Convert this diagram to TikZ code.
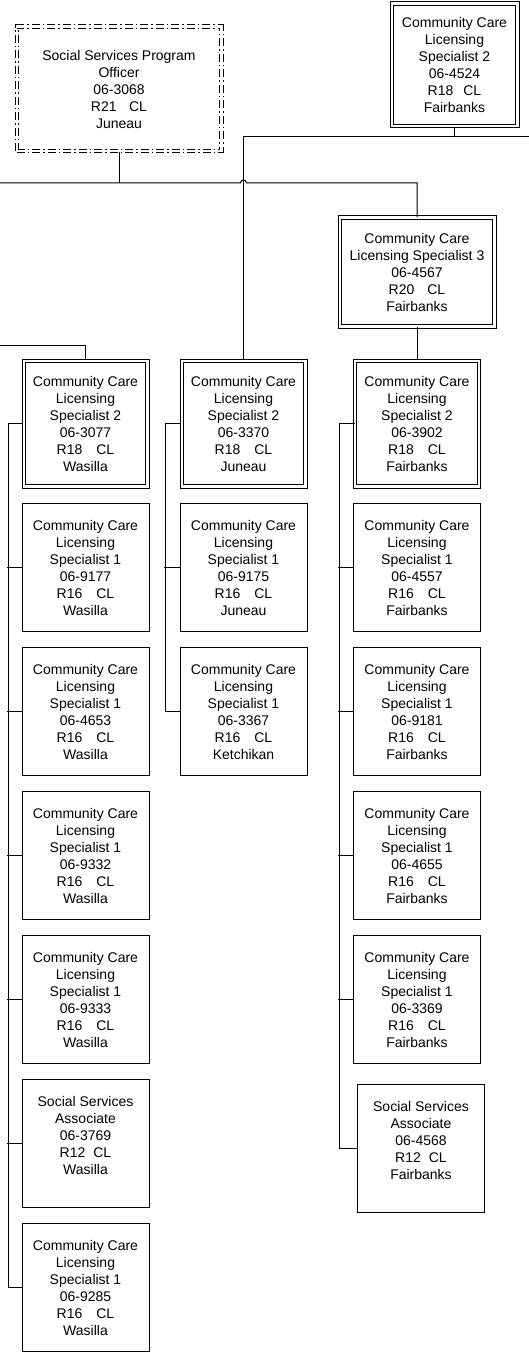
\documentclass[tikz,border=0pt]{standalone}
\usepackage{fontspec}
\setmainfont{Liberation Sans}
\usepackage{tikz}
\usetikzlibrary{positioning}
\newcommand{\clgrade}[2][14pt]{#2\hspace{#1}CL}
\tikzstyle{post} = [rectangle, 
draw=black, 
line width=1pt, 
minimum width=127pt, 
minimum height=128pt, 
inner sep=0pt, 
align=center, 
font=\fontsize{14}{17}\selectfont]
\tikzstyle{head} = [post, 
double, 
double distance=2.2pt, 
minimum width=123.8pt, 
minimum height=125.8pt]
\tikzstyle{vacant} = [head, 
dash pattern=on 8pt off 3pt on 1.5pt off 3pt]
\tikzstyle{link} = [line width=1pt]

\begin{document}
\begin{tikzpicture}[x=1pt, y=1pt, node distance=144pt]
\useasboundingbox (0,0) rectangle (529,-1356);

% top of the chart
\node (sspo) [vacant, minimum width=204.8pt, minimum height=124.8pt] at (119,-89) {Social Services Program\\Officer\\06-3068\\\clgrade[12.5pt]{R21}\\Juneau};
\node (topccl) [head, minimum width=125.8pt, minimum height=122.8pt] at (454.5,-65) {Community Care\\Licensing\\Specialist 2\\06-4524\\\clgrade[10pt]{R18}\\Fairbanks};
\node (fspec3) [head, minimum width=154.8pt, minimum height=108.8pt] at (417,-272) {Community Care\\Licensing Specialist 3\\06-4567\\\clgrade[13pt]{R20}\\Fairbanks};

% second row
\node (wspec2) [head] at (85.5,-423.5) {Community Care\\Licensing\\Specialist 2\\06-3077\\\clgrade{R18}\\Wasilla};
\node (jspec2) [head] at (243.5,-423.5) {Community Care\\Licensing\\Specialist 2\\06-3370\\\clgrade{R18}\\Juneau};
\node (fspec2) [head] at (417,-423.5) {Community Care\\Licensing\\Specialist 2\\06-3902\\\clgrade{R18}\\Fairbanks};

% Wasilla
\node (w1) [post, below of=wspec2] {Community Care\\Licensing\\Specialist 1\\06-9177\\\clgrade{R16}\\Wasilla};
\node (w2) [post, below of=w1] {Community Care\\Licensing\\Specialist 1\\06-4653\\\clgrade{R16}\\Wasilla};
\node (w3) [post, below of=w2] {Community Care\\Licensing\\Specialist 1\\06-9332\\\clgrade{R16}\\Wasilla};
\node (w4) [post, below of=w3] {Community Care\\Licensing\\Specialist 1\\06-9333\\\clgrade{R16}\\Wasilla};
\node (w5) [post, below of=w4] {Social Services\\Associate\\06-3769\\\clgrade[8pt]{R12}\\Wasilla\\~};
\node (w6) [post, below of=w5] {Community Care\\Licensing\\Specialist 1\\06-9285\\\clgrade{R16}\\Wasilla};

% Juneau
\node (j1) [post, below of=jspec2] {Community Care\\Licensing\\Specialist 1\\06-9175\\\clgrade{R16}\\Juneau};
\node (j2) [post, below of=j1] {Community Care\\Licensing\\Specialist 1\\06-3367\\\clgrade{R16}\\Ketchikan};

% Fairbanks
\node (f1) [post, below of=fspec2] {Community Care\\Licensing\\Specialist 1\\06-4557\\\clgrade{R16}\\Fairbanks};
\node (f2) [post, below of=f1] {Community Care\\Licensing\\Specialist 1\\06-9181\\\clgrade{R16}\\Fairbanks};
\node (f3) [post, below of=f2] {Community Care\\Licensing\\Specialist 1\\06-4655\\\clgrade{R16}\\Fairbanks};
\node (f4) [post, below of=f3] {Community Care\\Licensing\\Specialist 1\\06-3369\\\clgrade{R16}\\Fairbanks};
\node (fssa) [post, below of=f4, xshift=4pt, yshift=-5pt] {Social Services\\Associate\\06-4568\\\clgrade[8pt]{R12}\\Fairbanks\\~};

% lines running off the page
\coordinate (edgeA) at (0,-183);
\coordinate (edgeB) at (529,-137);
\coordinate (edgeC) at (0,-345);

\draw [link] (sspo.south) -- (sspo.south |- edgeA);
\draw [link] (edgeA) -- ([xshift=-3pt]jspec2.north |- edgeA) arc (180:0:3) -| (fspec3);
\draw [link] (topccl) |- (edgeB);
\draw [link] (topccl.south |- edgeB) -| (jspec2);
\draw [link] (edgeC) -| (wspec2);
\draw [link] (fspec3) -- (fspec2);

\draw [link] (wspec2.west) -- ++(-15,0) |- (w6.west);
\draw [link] (w1.west) -- ++(-15,0);
\draw [link] (w2.west) -- ++(-15,0);
\draw [link] (w3.west) -- ++(-15,0);
\draw [link] (w4.west) -- ++(-15,0);
\draw [link] (w5.west) -- ++(-15,0);

\draw [link] (jspec2.west) -- ++(-16,0) |- (j2.west);
\draw [link] (j1.west) -- ++(-16,0);

\draw [link] (fspec2.west) -- ++(-15,0) |- (fssa.west);
\draw [link] (f1.west) -- ++(-15,0);
\draw [link] (f2.west) -- ++(-15,0);
\draw [link] (f3.west) -- ++(-15,0);
\draw [link] (f4.west) -- ++(-15,0);

\end{tikzpicture}
\end{document}
